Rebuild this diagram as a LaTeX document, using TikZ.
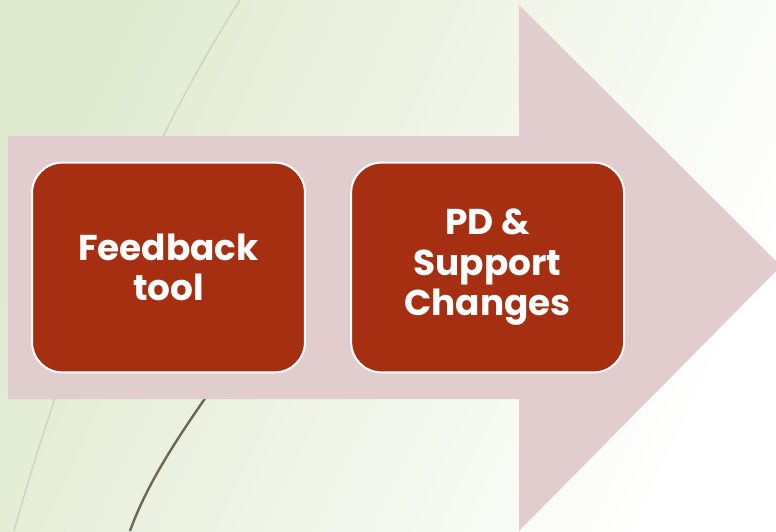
\documentclass[tikz,border=0pt]{standalone}
\usepackage{fontspec}
\setmainfont{Poppins}
\usepackage{tikz}
\usetikzlibrary{positioning, calc}

\definecolor{bggreen}{RGB}{224,234,208}
\definecolor{bgwhite}{RGB}{255,255,255}
\definecolor{arrowpink}{RGB}{225,205,205}
\definecolor{boxred}{RGB}{166,47,17}
\definecolor{lightline}{RGB}{208,211,192}
\definecolor{darkline}{RGB}{110,102,78}

\tikzset{
    stage/.style={rectangle, rounded corners=0.8cm, fill=boxred, draw=white,
        line width=1.5pt, minimum width=7.22cm, minimum height=5.55cm,
        text=white, align=center, font=\fontsize{27}{30.5}\selectfont\bfseries}
}

\begin{document}
\begin{tikzpicture}[x=0.026458cm, y=-0.026458cm]
\useasboundingbox (0,0) rectangle (776,531);
% background wash
\shade[left color=bgwhite, right color=bggreen, shading angle=245] (0,0) rectangle (776,531);
\clip (0,0) rectangle (776,531);
% swooshes
\draw[lightline, line width=1.1pt] (240,0) .. controls (150,140) and (70,330) .. (14,531);
\draw[darkline, line width=1.8pt] (225,370) .. controls (190,420) and (150,475) .. (130,531);
% process arrow
\coordinate (tail top) at (8,136);
\coordinate (tail bot) at (8,399);
\coordinate (tip) at (781,266);
\fill[arrowpink] (tail top) -- (519,136) -- (519,5) -- (tip) -- (519,531) -- (519,399) -- (tail bot) -- cycle;
% steps
\node[stage] (fb) at (168.5,267.5) {Feedback\\tool};
\node[stage, right=1.17cm of fb] (pd) {PD \&\\Support\\Changes};
\end{tikzpicture}
\end{document}
